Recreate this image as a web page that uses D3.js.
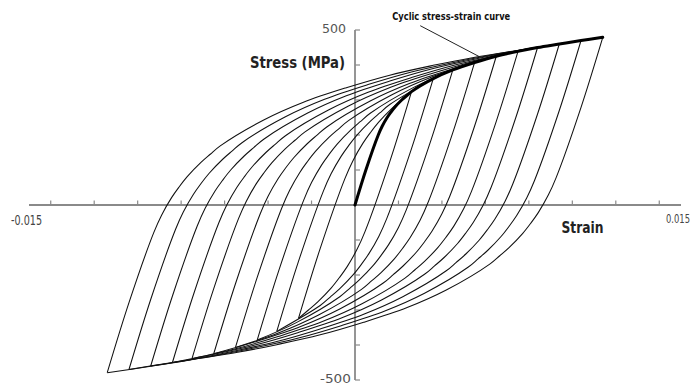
<!DOCTYPE html>
<html>
<head>
<meta charset="utf-8">
<script src="https://cdn.jsdelivr.net/npm/d3@7"></script>
<style>
  html, body { margin: 0; padding: 0; background: #fff; }
  svg { display: block; }
</style>
</head>
<body>
<svg id="chart" width="696" height="389"></svg>
<script>
// Axis extents and tick positions
const strainDomain = [-0.015, 0.015];
const stressDomain = [-500, 500];
const strainTicks = [-0.014, -0.012, -0.010, -0.008, -0.006, -0.004, -0.002,
                      0.002, 0.004, 0.006, 0.008, 0.010, 0.012, 0.014];
const stressTicks = [-500, -400, -300, -200, -100, 100, 200, 300, 400, 500];
const strainTickLabels = [{ v: -0.015, t: "-0.015" }, { v: 0.015, t: "0.015" }];
const stressTickLabels = [{ v: 500, t: "500" }, { v: -500, t: "-500" }];

// Cyclic stress-strain curve below the first loop tip (strain, MPa)
const kneeStrain = [0, 0.0005, 0.00107, 0.00125, 0.00148, 0.00165, 0.00184, 0.00215, 0.00237];
const kneeStress = [0, 100, 200, 225, 250, 265, 280, 300, 312];

// Loop tips (strain amplitude, stress amplitude), lying on the cyclic curve
const tipStrain = [0.0026, 0.0036, 0.0045, 0.0055, 0.0065, 0.0075, 0.0084, 0.0094, 0.0104, 0.0114];
const tipStress = [324, 361, 386, 407, 425, 439, 450, 460, 470, 479];

// Callout on the cyclic curve
const calloutLabel = "Cyclic stress-strain curve";
const calloutStrain = 0.0059;
const calloutStress = 418;

const svg = d3.select("#chart");
const x = d3.scaleLinear().domain(strainDomain).range([29, 681]);
const y = d3.scaleLinear().domain(stressDomain).range([380, 30]);

// Full cyclic curve: knee points followed by the tips
const cyclic = kneeStrain.map((e, i) => [e, kneeStress[i]])
  .concat(tipStrain.map((e, i) => [e, tipStress[i]]));

const line = d3.line()
  .x(d => x(d[0]))
  .y(d => y(d[1]))
  .curve(d3.curveCatmullRom.alpha(0.5));

// Axes
const axisColor = "#8a8a8a";
const axes = svg.append("g").attr("stroke", axisColor).attr("stroke-width", 1.8).attr("fill", "none");
axes.append("line")
  .attr("x1", x(strainDomain[0])).attr("x2", x(strainDomain[1]))
  .attr("y1", y(0)).attr("y2", y(0));
axes.append("line")
  .attr("x1", x(0)).attr("x2", x(0))
  .attr("y1", y(stressDomain[0])).attr("y2", y(stressDomain[1]));
axes.selectAll(".xt").data(strainTicks).join("line")
  .attr("stroke-width", 1.2)
  .attr("x1", d => x(d)).attr("x2", d => x(d))
  .attr("y1", y(0)).attr("y2", y(0) - 4.5);
axes.selectAll(".yt").data(stressTicks).join("line")
  .attr("stroke-width", 1.2)
  .attr("x1", x(0)).attr("x2", x(0) + 5)
  .attr("y1", d => y(d)).attr("y2", d => y(d));

// Hysteresis loops: each branch is the cyclic curve doubled about a tip
const loops = svg.append("g").attr("fill", "none").attr("stroke", "#111").attr("stroke-width", 1.05);
cyclic.forEach((tip, j) => {
  if (j < kneeStrain.length) return;
  const pts = cyclic.slice(0, j + 1);
  const down = pts.map(p => [tip[0] - 2 * p[0], tip[1] - 2 * p[1]]);
  const up = pts.map(p => [-tip[0] + 2 * p[0], -tip[1] + 2 * p[1]]);
  loops.append("path").attr("d", line(down));
  loops.append("path").attr("d", line(up));
});

// Cyclic stress-strain curve
svg.append("path")
  .attr("d", line(cyclic))
  .attr("fill", "none")
  .attr("stroke", "#000")
  .attr("stroke-width", 3)
  .attr("stroke-linecap", "round");

// Callout
const cx = x(calloutStrain), cy = y(calloutStress);
svg.append("line")
  .attr("x1", cx - 63).attr("y1", cy - 33)
  .attr("x2", cx).attr("y2", cy)
  .attr("stroke", "#222").attr("stroke-width", 1);
svg.append("text")
  .attr("x", cx - 91).attr("y", cy - 39)
  .attr("font-family", "'DejaVu Sans Condensed', 'DejaVu Sans', sans-serif")
  .attr("font-size", 10.5)
  .attr("font-weight", "bold")
  .attr("textLength", 118)
  .attr("lengthAdjust", "spacingAndGlyphs")
  .attr("fill", "#111")
  .text(calloutLabel);

// Tick labels
const tickFont = "'DejaVu Sans Condensed', 'DejaVu Sans', sans-serif";
svg.append("text").attr("x", x(strainTickLabels[0].v) - 18).attr("y", y(0) + 20)
  .attr("font-family", tickFont).attr("font-size", 14).attr("fill", "#444")
  .attr("textLength", 31).attr("lengthAdjust", "spacingAndGlyphs")
  .text(strainTickLabels[0].t);
svg.append("text").attr("x", x(strainTickLabels[1].v) - 15).attr("y", y(0) + 18)
  .attr("font-family", tickFont).attr("font-size", 12.5).attr("fill", "#444")
  .attr("textLength", 24).attr("lengthAdjust", "spacingAndGlyphs")
  .text(strainTickLabels[1].t);
svg.append("text").attr("x", x(0) - 33).attr("y", y(stressTickLabels[0].v) + 3)
  .attr("font-family", "'DejaVu Sans', sans-serif").attr("font-size", 13).attr("fill", "#555")
  .attr("textLength", 24).attr("lengthAdjust", "spacingAndGlyphs")
  .text(stressTickLabels[0].t);
svg.append("text").attr("x", x(0) - 35).attr("y", y(stressTickLabels[1].v) + 3)
  .attr("font-family", "'DejaVu Sans', sans-serif").attr("font-size", 13).attr("fill", "#555")
  .attr("textLength", 31).attr("lengthAdjust", "spacingAndGlyphs")
  .text(stressTickLabels[1].t);

// Axis titles
svg.append("text").attr("x", x(0) - 105).attr("y", y(400) + 3)
  .attr("font-family", tickFont).attr("font-size", 15).attr("font-weight", "bold").attr("fill", "#222")
  .attr("textLength", 95).attr("lengthAdjust", "spacingAndGlyphs")
  .text("Stress (MPa)");
svg.append("text").attr("x", x(0.0095)).attr("y", y(0) + 28)
  .attr("font-family", tickFont).attr("font-size", 15).attr("font-weight", "bold").attr("fill", "#222")
  .attr("textLength", 42).attr("lengthAdjust", "spacingAndGlyphs")
  .text("Strain");
</script>
</body>
</html>
